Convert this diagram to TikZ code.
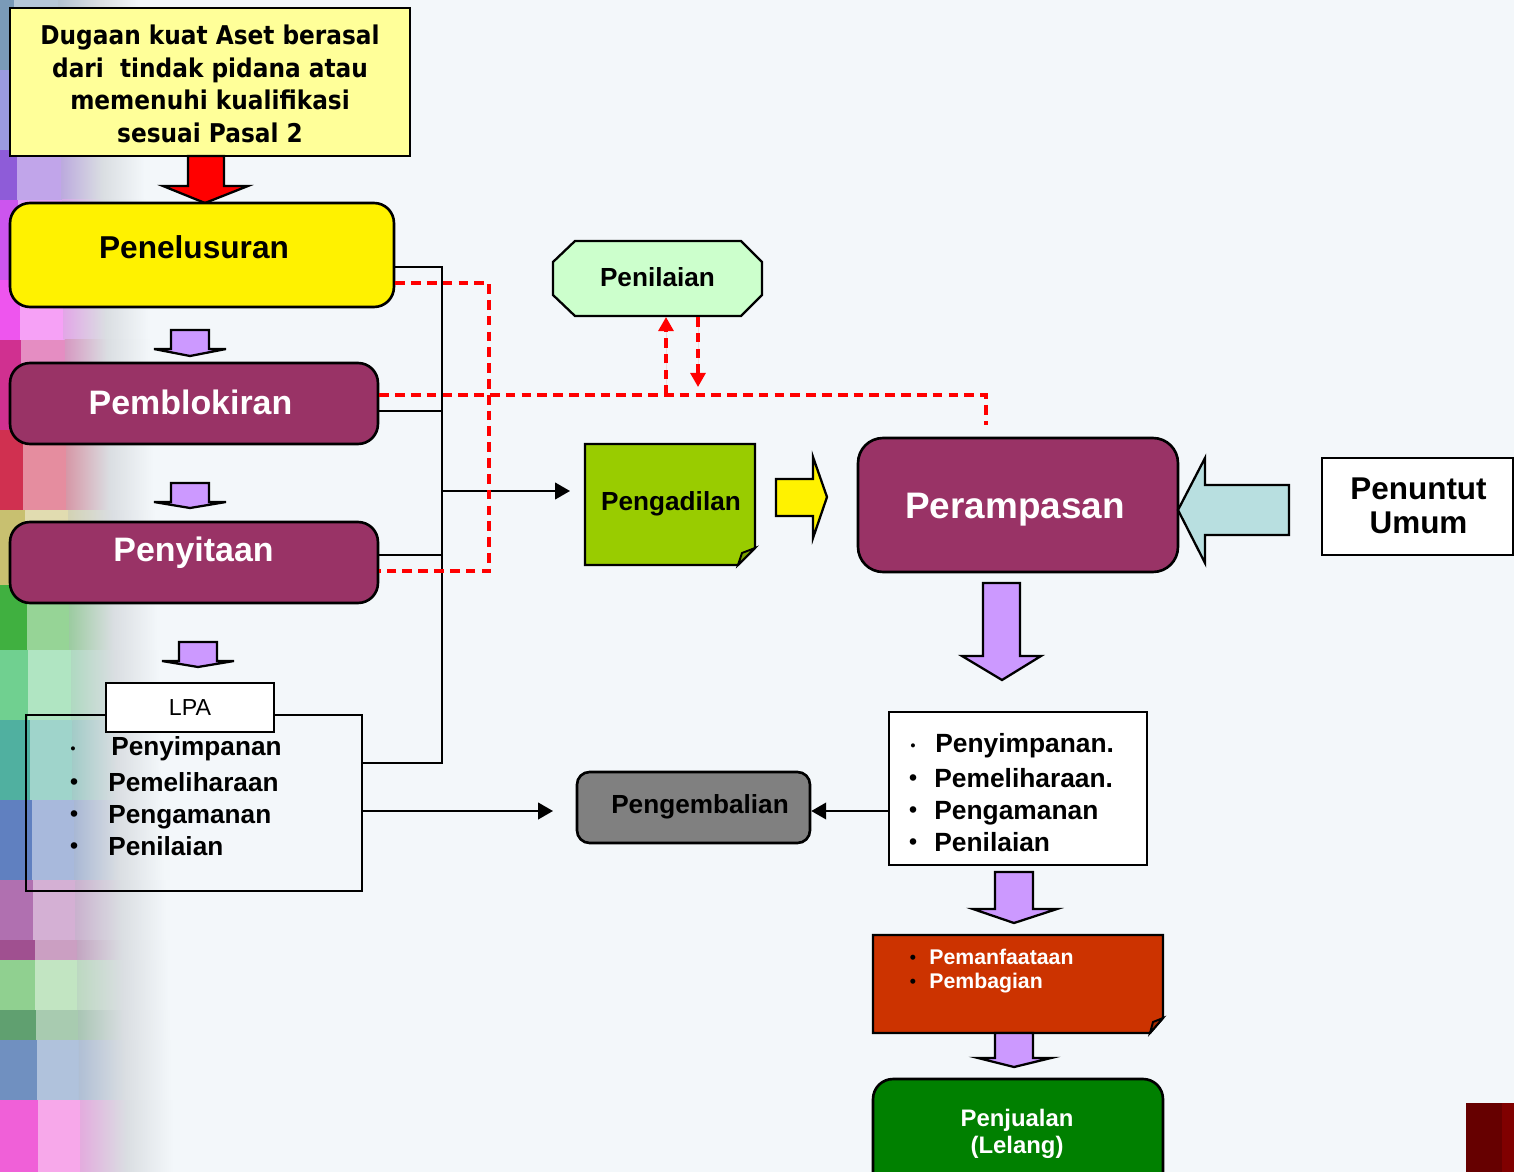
\documentclass[tikz,border=0pt]{standalone}
\usepackage{fontspec}
\setmainfont{Liberation Sans}
\newfontfamily\tahomafont[FakeStretch=0.9]{DejaVu Sans}
\usetikzlibrary{arrows.meta,calc}
\definecolor{bg}{HTML}{F3F7FA}
\definecolor{bggray}{HTML}{DADEE2}
\definecolor{lightyel}{HTML}{FFFF99}
\definecolor{plum}{HTML}{993366}
\definecolor{mint}{HTML}{CCFFCC}
\definecolor{lime}{HTML}{99CC00}
\definecolor{lilac}{HTML}{CC99FF}
\definecolor{greybox}{HTML}{808080}
\definecolor{rust}{HTML}{CC3300}
\definecolor{darkgreen}{HTML}{008000}
\definecolor{paleteal}{HTML}{B8DFE0}
\definecolor{maroonA}{HTML}{660000}
\definecolor{maroonB}{HTML}{800000}
\definecolor{sA}{HTML}{7A9AB8}
\definecolor{sB}{HTML}{9A9AE0}
\definecolor{sC}{HTML}{8E5CD8}
\definecolor{sD}{HTML}{CC55EE}
\definecolor{sE}{HTML}{EE55EE}
\definecolor{sF}{HTML}{D03090}
\definecolor{sG}{HTML}{D03050}
\definecolor{sH}{HTML}{C8C070}
\definecolor{sI}{HTML}{40B040}
\definecolor{sJ}{HTML}{70D090}
\definecolor{sK}{HTML}{50B0A0}
\definecolor{sL}{HTML}{6080C0}
\definecolor{sM}{HTML}{B070B0}
\definecolor{sN}{HTML}{A05090}
\definecolor{sO}{HTML}{90D090}
\definecolor{sP}{HTML}{60A070}
\definecolor{sQ}{HTML}{7090C0}
\definecolor{sR}{HTML}{F060D8}
\tikzset{
  rbox/.style={draw=black, line width=1.5pt, rounded corners=0.4cm, inner sep=0pt},
  sbox/.style={draw=black, line width=1.3pt, inner sep=0pt},
  conn/.style={draw=black, line width=1.1pt},
  reddash/.style={draw=red, line width=1.8pt, dash pattern=on 5.5pt off 3.5pt},
  blockarrow/.style={draw=black, line width=1.3pt, line join=miter},
  lbl/.style={inner sep=0pt, font=\bfseries},
  tipblack/.style={-{Triangle[length=8.5pt,width=9.5pt]}},
  tipred/.style={-{Triangle[length=8pt,width=8.5pt]}},
}
\begin{document}
\begin{tikzpicture}[x=0.02cm,y=-0.02cm]
\useasboundingbox (0,0) rectangle (1514,1172);
\clip (0,0) rectangle (1514,1172);
\fill[bg] (0,0) rectangle (1514,1172);
% left mosaic strip
\foreach \ya/\yb/\c in {0/70/sA,70/150/sB,150/200/sC,200/280/sD,280/340/sE,340/430/sF,430/510/sG,510/585/sH,585/650/sI,650/720/sJ,720/800/sK,800/880/sL,880/940/sM,940/960/sN,960/1010/sO,1010/1040/sP,1040/1100/sQ,1100/1172/sR}{
  \pgfmathsetmacro\wa{14+0.022*\ya}
  \pgfmathsetmacro\wb{58+0.02*\ya}
  \pgfmathsetmacro\wc{140+0.03*\ya}
  \fill[\c] (0,\ya) rectangle (\wa,\yb);
  \fill[\c!55!white] (\wa,\ya) rectangle (\wb,\yb);
  \shade[left color=\c!40!bggray, right color=bg, middle color=bggray] (\wb,\ya) rectangle (\wc,\yb);
}
% top box
\node[sbox, fill=lightyel, minimum width=8cm, minimum height=2.96cm] (top) at (210,82) {};
\node[inner sep=0pt, align=center, font=\tahomafont\bfseries\fontsize{14.7}{18.5}\selectfont] (toptext) at (210,84) {Dugaan kuat Aset berasal\\dari\ \ tindak pidana atau\\memenuhi kualifikasi\\sesuai Pasal 2};
% red arrow
\draw[blockarrow, fill=red] (188,156) -- (224,156) -- (224,186) -- (248,186) -- (205,203) -- (163,186) -- (188,186) -- cycle;
% Penelusuran
\node[rbox, fill=yellow, minimum width=7.68cm, minimum height=2.08cm] (pen) at (202,255) {};
\node[lbl, font=\bfseries\fontsize{18}{21}\selectfont] (pentext) at (194,247) {Penelusuran};
% small purple arrows
\draw[blockarrow, fill=lilac] (171,330) -- (209,330) -- (209,349) -- (226,349) -- (190,356) -- (154,349) -- (171,349) -- cycle;
\draw[blockarrow, fill=lilac] (171,483) -- (209,483) -- (209,502) -- (226,502) -- (190,508) -- (154,502) -- (171,502) -- cycle;
\draw[blockarrow, fill=lilac] (179,642) -- (217,642) -- (217,661) -- (234,661) -- (198,667) -- (162,661) -- (179,661) -- cycle;
% Pemblokiran
\node[rbox, fill=plum, minimum width=7.36cm, minimum height=1.62cm] (blk) at (194,403.5) {};
\node[lbl, text=white, font=\bfseries\fontsize{19.3}{22}\selectfont] (blktext) at (190.5,402) {Pemblokiran};
% Penyitaan
\node[rbox, fill=plum, minimum width=7.36cm, minimum height=1.62cm] (sit) at (194,562.5) {};
\node[lbl, text=white, font=\bfseries\fontsize{19.3}{22}\selectfont] (sittext) at (193.5,553) {Penyitaan};
% LPA
\node[sbox, line width=1.2pt, minimum width=6.72cm, minimum height=3.52cm] (lpa) at (194,803) {};
\node[sbox, line width=1.2pt, fill=white, minimum width=3.36cm, minimum height=0.98cm, font=\fontsize{13.2}{15}\selectfont] (lpatab) at (190,707.5) {LPA};
\node[inner sep=0pt, anchor=base, font=\bfseries\fontsize{8}{10}\selectfont] (lb1) at (73,753) {•};
\node[inner sep=0pt, anchor=base, font=\bfseries\fontsize{13}{15}\selectfont] (lb2) at (74,789) {•};
\node[inner sep=0pt, anchor=base, font=\bfseries\fontsize{13}{15}\selectfont] (lb3) at (74,821) {•};
\node[inner sep=0pt, anchor=base, font=\bfseries\fontsize{13}{15}\selectfont] (lb4) at (74,853) {•};
\node[lbl, anchor=base west, font=\bfseries\fontsize{14.9}{17}\selectfont] (li1) at (111,755) {Penyimpanan};
\node[lbl, anchor=base west, font=\bfseries\fontsize{14.9}{17}\selectfont] (li2) at (108,791) {Pemeliharaan};
\node[lbl, anchor=base west, font=\bfseries\fontsize{14.9}{17}\selectfont] (li3) at (108,823) {Pengamanan};
\node[lbl, anchor=base west, font=\bfseries\fontsize{14.9}{17}\selectfont] (li4) at (108,855) {Penilaian};
% bus coordinates
\coordinate (b1) at (442,267);
\coordinate (b2) at (442,411);
\coordinate (b3) at (442,555);
\coordinate (b4) at (442,763);
\coordinate (bmid) at (442,491);
\coordinate (pgdend) at (570,491);
\coordinate (y811) at (0,811);
\coordinate (lpaend) at (553,811);
\draw[conn] (pen.east |- b1) -- (b1) -- (b4) -- (lpa.east |- b4);
\draw[conn] (blk.east |- b2) -- (b2);
\draw[conn] (sit.east |- b3) -- (b3);
\draw[conn, tipblack] (bmid) -- (pgdend);
\draw[conn, tipblack] (lpa.east |- y811) -- (lpaend);
% Penilaian octagon
\draw[draw=black, line width=1.3pt, fill=mint] (575,241) -- (741,241) -- (762,262) -- (762,295) -- (741,316) -- (575,316) -- (553,295) -- (553,262) -- cycle;
\node[lbl, font=\bfseries\fontsize{14.9}{17}\selectfont] (penil) at (657.5,277) {Penilaian};
% red dashed
\coordinate (d1) at (489,283);
\coordinate (d2) at (489,571);
\coordinate (d3) at (986,395);
\coordinate (d4) at (986,425);
\draw[reddash] (pen.east |- d1) -- (d1) -- (d2) -- (sit.east |- d2);
\draw[reddash] (blk.east |- d3) -- (d3) -- (d4);
\coordinate (u1) at (666,395);
\coordinate (u2) at (666,317);
\coordinate (v1) at (698,317);
\coordinate (v2) at (698,387);
\draw[reddash, tipred, fill=red] (u1) -- (u2);
\draw[reddash, tipred, fill=red] (v1) -- (v2);
% Pengadilan
\draw[draw=black, line width=1.3pt, fill=lime] (585,444) -- (755,444) -- (755,548) -- (738,565) -- (585,565) -- cycle;
\draw[draw=black, line width=1.1pt, fill=lime!80!black] (738,565) -- (742,553) -- (755,548) -- cycle;
\node[lbl, font=\bfseries\fontsize{14.9}{17}\selectfont] (pgd) at (671,503.5) {Pengadilan};
% yellow arrow
\draw[blockarrow, fill=yellow] (776,479) -- (813,479) -- (813,457) -- (827,497) -- (813,538) -- (813,516) -- (776,516) -- cycle;
% Perampasan
\node[rbox, fill=plum, rounded corners=0.5cm, minimum width=6.4cm, minimum height=2.68cm] (per) at (1018,505) {};
\node[lbl, text=white, font=\bfseries\fontsize{21}{24}\selectfont] (pertext) at (1015,509.5) {Perampasan};
% teal arrow
\draw[blockarrow, fill=paleteal] (1289,485) -- (1205,485) -- (1205,458) -- (1178,510) -- (1205,563) -- (1205,535) -- (1289,535) -- cycle;
% Penuntut Umum
\node[sbox, fill=white, minimum width=3.82cm, minimum height=1.94cm] (pu) at (1417.5,506.5) {};
\node[lbl, align=center, font=\bfseries\fontsize{17.9}{19.3}\selectfont] (putext) at (1418.5,505.5) {Penuntut\\Umum};
% big purple arrow
\draw[blockarrow, fill=lilac] (983,583) -- (1020,583) -- (1020,656) -- (1041,656) -- (1002,680) -- (962,656) -- (983,656) -- cycle;
% right list
\node[sbox, fill=white, line width=1.2pt, minimum width=5.16cm, minimum height=3.06cm] (rl) at (1018,788.5) {};
\node[inner sep=0pt, anchor=base, font=\bfseries\fontsize{8}{10}\selectfont] (rb1) at (913,750) {•};
\node[inner sep=0pt, anchor=base, font=\bfseries\fontsize{13}{15}\selectfont] (rb2) at (913,785) {•};
\node[inner sep=0pt, anchor=base, font=\bfseries\fontsize{13}{15}\selectfont] (rb3) at (913,817) {•};
\node[inner sep=0pt, anchor=base, font=\bfseries\fontsize{13}{15}\selectfont] (rb4) at (913,849) {•};
\node[lbl, anchor=base west, font=\bfseries\fontsize{15}{17}\selectfont] (ri1) at (935,752) {Penyimpanan.};
\node[lbl, anchor=base west, font=\bfseries\fontsize{15}{17}\selectfont] (ri2) at (934,787) {Pemeliharaan.};
\node[lbl, anchor=base west, font=\bfseries\fontsize{15}{17}\selectfont] (ri3) at (934,819) {Pengamanan};
\node[lbl, anchor=base west, font=\bfseries\fontsize{15}{17}\selectfont] (ri4) at (934,851) {Penilaian};
% Pengembalian
\node[rbox, fill=greybox, rounded corners=0.25cm, minimum width=4.66cm, minimum height=1.42cm] (peng) at (693.5,807.5) {};
\node[lbl, font=\bfseries\fontsize{14.9}{17}\selectfont] (pengtext) at (700,806.5) {Pengembalian};
\draw[conn, tipblack] (rl.west |- y811) -- (peng.east |- y811);
% purple arrow 3
\draw[blockarrow, fill=lilac] (995,872) -- (1033,872) -- (1033,909) -- (1057,909) -- (1014,923) -- (973,909) -- (995,909) -- cycle;
% red note box
\draw[draw=black, line width=1.3pt, fill=rust] (873,935) -- (1163,935) -- (1163,1018) -- (1150,1033) -- (873,1033) -- cycle;
\draw[draw=black, line width=1.1pt, fill=rust!80!black] (1150,1033) -- (1153,1022) -- (1163,1018) -- cycle;
\node[inner sep=0pt, anchor=base, text=black, font=\bfseries\fontsize{10}{12}\selectfont] (nb1) at (913,963) {•};
\node[inner sep=0pt, anchor=base, text=black, font=\bfseries\fontsize{10}{12}\selectfont] (nb2) at (913,987) {•};
\node[lbl, anchor=base west, text=white, font=\bfseries\fontsize{12.1}{14}\selectfont] (note1) at (929,964) {Pemanfaataan};
\node[lbl, anchor=base west, text=white, font=\bfseries\fontsize{12.1}{14}\selectfont] (note2) at (929,988) {Pembagian};
% purple arrow 4
\draw[blockarrow, fill=lilac] (995,1033) -- (1033,1033) -- (1033,1058) -- (1051,1058) -- (1014,1067) -- (978,1058) -- (995,1058) -- cycle;
% Penjualan
\node[rbox, fill=darkgreen, minimum width=5.8cm, minimum height=2.44cm] (pj) at (1018,1140) {};
\node[lbl, align=center, text=white, font=\bfseries\fontsize{13.6}{15.3}\selectfont] (pjtext) at (1017,1133.5) {Penjualan\\(Lelang)};
% maroon corner
\fill[maroonA] (1466,1103) rectangle (1514,1172);
\fill[maroonB] (1502,1103) rectangle (1514,1172);
\end{tikzpicture}
\end{document}
